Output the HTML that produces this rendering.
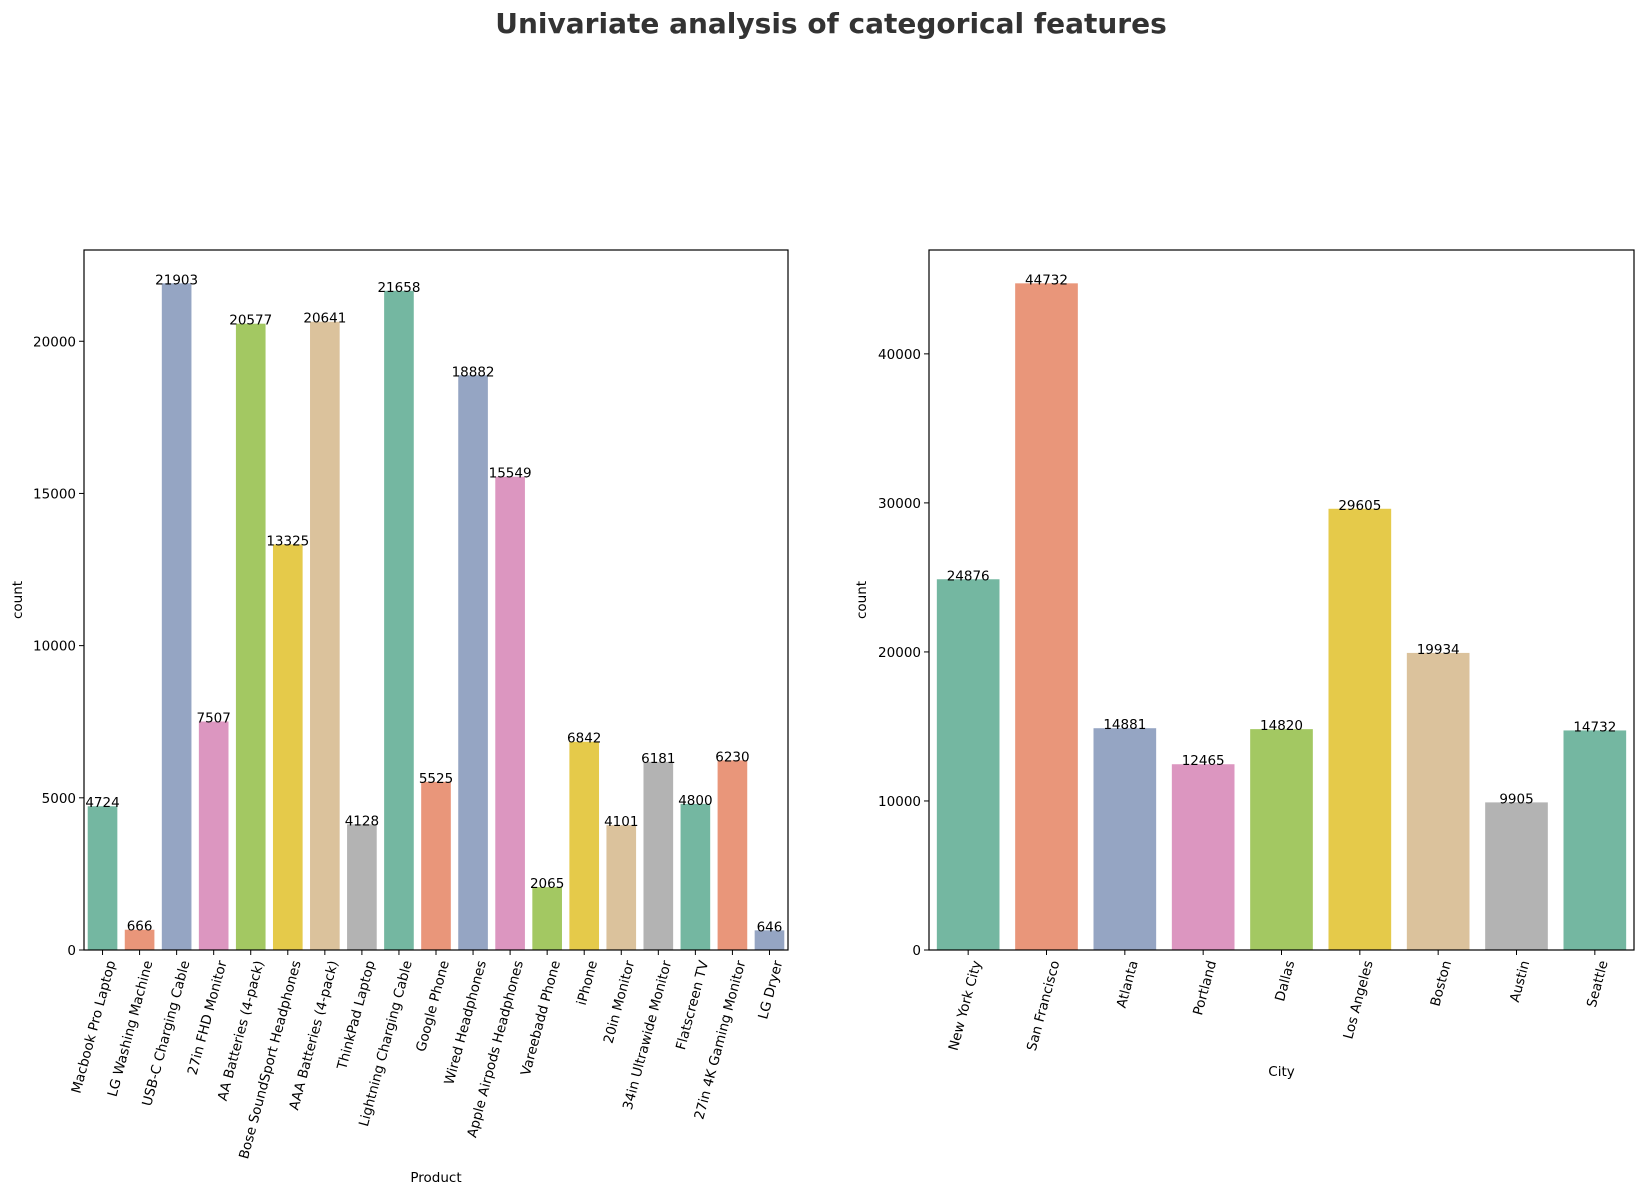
<!DOCTYPE html>
<html><head><meta charset="utf-8"><style>body{margin:0;background:#fff}svg{display:block;font-family:"DejaVu Sans","Liberation Sans",sans-serif}</style></head>
<body>
<svg id="fig" width="1643" height="1196" xmlns="http://www.w3.org/2000/svg">
<text x="831" y="33" text-anchor="middle" font-size="28" font-weight="bold" fill="#333">Univariate analysis of categorical features</text>
</svg>
<script>
const productCategories=["Macbook Pro Laptop","LG Washing Machine","USB-C Charging Cable","27in FHD Monitor","AA Batteries (4-pack)","Bose SoundSport Headphones","AAA Batteries (4-pack)","ThinkPad Laptop","Lightning Charging Cable","Google Phone","Wired Headphones","Apple Airpods Headphones","Vareebadd Phone","iPhone","20in Monitor","34in Ultrawide Monitor","Flatscreen TV","27in 4K Gaming Monitor","LG Dryer"];
const productCounts=[4724,666,21903,7507,20577,13325,20641,4128,21658,5525,18882,15549,2065,6842,4101,6181,4800,6230,646];
const productTicks=[0,5000,10000,15000,20000];
const cityCategories=["New York City","San Francisco","Atlanta","Portland","Dallas","Los Angeles","Boston","Austin","Seattle"];
const cityCounts=[24876,44732,14881,12465,14820,29605,19934,9905,14732];
const cityTicks=[0,10000,20000,30000,40000];
const palette=["#74b7a1","#e9967a","#95a5c3","#dc96c0","#a3c862","#e5ca4a","#dbc29c","#b3b3b3"];
const NS="http://www.w3.org/2000/svg";
const svg=document.getElementById('fig');
function el(tag,attrs,parent){const e=document.createElementNS(NS,tag);for(const k in attrs)e.setAttribute(k,attrs[k]);(parent||svg).appendChild(e);return e;}
function chart(prefix,cats,vals,ticks,L,R,T,B,xlabel,xlabelY,ylabelX){
  const g=el('g',{});
  
  
  const ymax=Math.max(...vals)*1.05;
  const y=v=>B-(v/ymax)*(B-T);
  const slot=(R-L)/cats.length;
  const x=i=>L+slot*(i+0.5);
  cats.forEach((c,i)=>{
    const r=el('rect',{x:x(i)-slot*0.4,y:y(vals[i]),width:slot*0.8,height:B-y(vals[i]),fill:palette[i%8]},g);
    
    
    const t=el('text',{x:x(i),y:y(vals[i])+1,'text-anchor':'middle','font-size':13.5,fill:'#000'},g);
    t.textContent=vals[i];
    
    
    el('line',{x1:x(i),x2:x(i),y1:B,y2:B+5,stroke:'#000','stroke-width':1},g);
    const lx=x(i)+13,ly=B+12;
    const lt=el('text',{x:0,y:0,transform:`translate(${lx},${ly}) rotate(-75)`,'text-anchor':'end','font-size':13.5,fill:'#000'},g);
    lt.textContent=c;
    
    
  });
  ticks.forEach(v=>{
    el('line',{x1:L-5,x2:L,y1:y(v),y2:y(v),stroke:'#000','stroke-width':1},g);
    const t=el('text',{x:L-8,y:y(v)+5,'text-anchor':'end','font-size':13.5,fill:'#000'},g);
    t.textContent=v;
    
    
  });
  const f=el('rect',{x:L,y:T,width:R-L,height:B-T,fill:'none',stroke:'#000','stroke-width':1.2},g);
  
  
  const xl=el('text',{x:(L+R)/2,y:xlabelY,'text-anchor':'middle','font-size':13.5},g);
  xl.textContent=xlabel;
  
  
  const yl=el('text',{x:0,y:0,transform:`translate(${ylabelX},${(T+B)/2}) rotate(-90)`,'text-anchor':'middle','font-size':13.5},g);
  yl.textContent='count';
  
  
}
chart('product',productCategories,productCounts,productTicks,84,788,250,950,'Product',1182,22);
chart('city',cityCategories,cityCounts,cityTicks,929,1634,250,950,'City',1076,866);
</script>
</body></html>
